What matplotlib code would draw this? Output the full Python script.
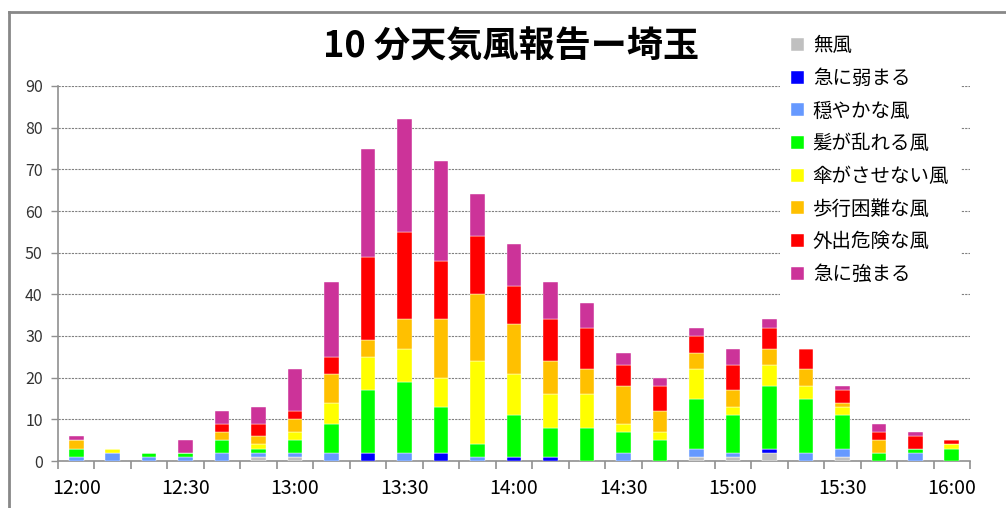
import numpy as np
import matplotlib.pyplot as plt
from matplotlib.lines import Line2D

plt.rcParams['font.family'] = ['Noto Sans CJK JP', 'DejaVu Sans']

times = ['12:00', '12:10', '12:20', '12:30', '12:40', '12:50',
         '13:00', '13:10', '13:20', '13:30', '13:40', '13:50',
         '14:00', '14:10', '14:20', '14:30', '14:40', '14:50',
         '15:00', '15:10', '15:20', '15:30', '15:40', '15:50', '16:00']

labels = ['無風', '急に弱まる', '穏やかな風', '髪が乱れる風',
          '傘がさせない風', '歩行困難な風', '外出危険な風', '急に強まる']
colors = ['#C0C0C0', '#0000FF', '#6699FF', '#00FF00',
          '#FFFF00', '#FFC000', '#FF0000', '#CC3399']

calm   = [0, 0, 0, 0, 0, 1, 1, 0, 0, 0, 0, 0, 0, 0, 0, 0, 0, 1, 1, 2, 0, 1, 0, 0, 0]
weaken = [0, 0, 0, 0, 0, 0, 0, 0, 2, 0, 2, 0, 1, 1, 0, 0, 0, 0, 0, 1, 0, 0, 0, 0, 0]
gentle = [1, 2, 1, 1, 2, 1, 1, 2, 0, 2, 0, 1, 0, 0, 0, 2, 0, 2, 1, 0, 2, 2, 0, 2, 0]
hair   = [2, 0, 1, 1, 3, 1, 3, 7, 15, 17, 11, 3, 10, 7, 8, 5, 5, 12, 9, 15, 13, 8, 2, 1, 3]
umbr   = [0, 1, 0, 0, 0, 1, 2, 5, 8, 8, 7, 20, 10, 8, 8, 2, 2, 7, 2, 5, 3, 2, 0, 0, 1]
walk   = [2, 0, 0, 0, 2, 2, 3, 7, 4, 7, 14, 16, 12, 8, 6, 9, 5, 4, 4, 4, 4, 1, 3, 0, 0]
danger = [0, 0, 0, 0, 2, 3, 2, 4, 20, 21, 14, 14, 9, 10, 10, 5, 6, 4, 6, 5, 5, 3, 2, 3, 1]
gust   = [1, 0, 0, 3, 3, 4, 10, 18, 26, 27, 24, 10, 10, 9, 6, 3, 2, 2, 4, 2, 0, 1, 2, 1, 0]

series = [calm, weaken, gentle, hair, umbr, walk, danger, gust]

fig = plt.figure(figsize=(10.06, 5.08), dpi=100)
ax = fig.add_axes([58 / 1006, 1 - 461 / 508, 912 / 1006, 375 / 508])

x = np.arange(len(times))
bottom = np.zeros(len(times))
for vals, lab, col in zip(series, labels, colors):
    ax.bar(x, vals, width=0.4, bottom=bottom, color=col, label=lab,
           edgecolor='white', linewidth=0.3, zorder=3)
    bottom += np.array(vals)

ax.set_xlim(-0.5, len(times) - 0.5)
ax.set_ylim(0, 90)
ax.set_yticks(np.arange(0, 91, 10))
ax.yaxis.grid(True, linestyle=(0, (2, 1)), color='#808080', linewidth=0.8, zorder=0)

ax.set_xticks(x[::3])
ax.set_xticklabels(times[::3], fontsize=14)
ax.set_xticks(np.arange(-0.5, len(times)), minor=True)
ax.tick_params(axis='x', which='major', length=0, pad=12)
ax.tick_params(axis='x', which='minor', length=6, width=1.2, color='#909090')
ax.tick_params(axis='y', length=5, width=1, color='#909090', labelsize=11.5,
               pad=6, labelcolor='#333333')

for side in ['top', 'right']:
    ax.spines[side].set_visible(False)
for side in ['left', 'bottom']:
    ax.spines[side].set_color('#909090')
    ax.spines[side].set_linewidth(1.2)

fig.text(511 / 1006, 1 - 47 / 508, '10 分天気風報告ー埼玉', fontsize=26,
         fontweight='bold', ha='center', va='center')

leg = ax.legend(loc='upper left', bbox_to_anchor=(770 / 1006, 1 - 14 / 508),
                bbox_transform=fig.transFigure, fontsize=14, frameon=True,
                handlelength=0.65, handleheight=0.65, handletextpad=0.45,
                labelspacing=0.6, borderpad=0.6, fancybox=False)
leg.get_frame().set_edgecolor('none')
leg.get_frame().set_facecolor('white')
leg.get_frame().set_alpha(1)
leg.set_zorder(5)

# outer chart border along the left and top edges
fig.add_artist(Line2D([9 / 1006, 9 / 1006], [0, 1 - 12 / 508],
                      transform=fig.transFigure, color='#888888', linewidth=2))
fig.add_artist(Line2D([9 / 1006, 1], [1 - 12 / 508, 1 - 12 / 508],
                      transform=fig.transFigure, color='#888888', linewidth=2))

fig.savefig('out.png', dpi=100, facecolor='white')
